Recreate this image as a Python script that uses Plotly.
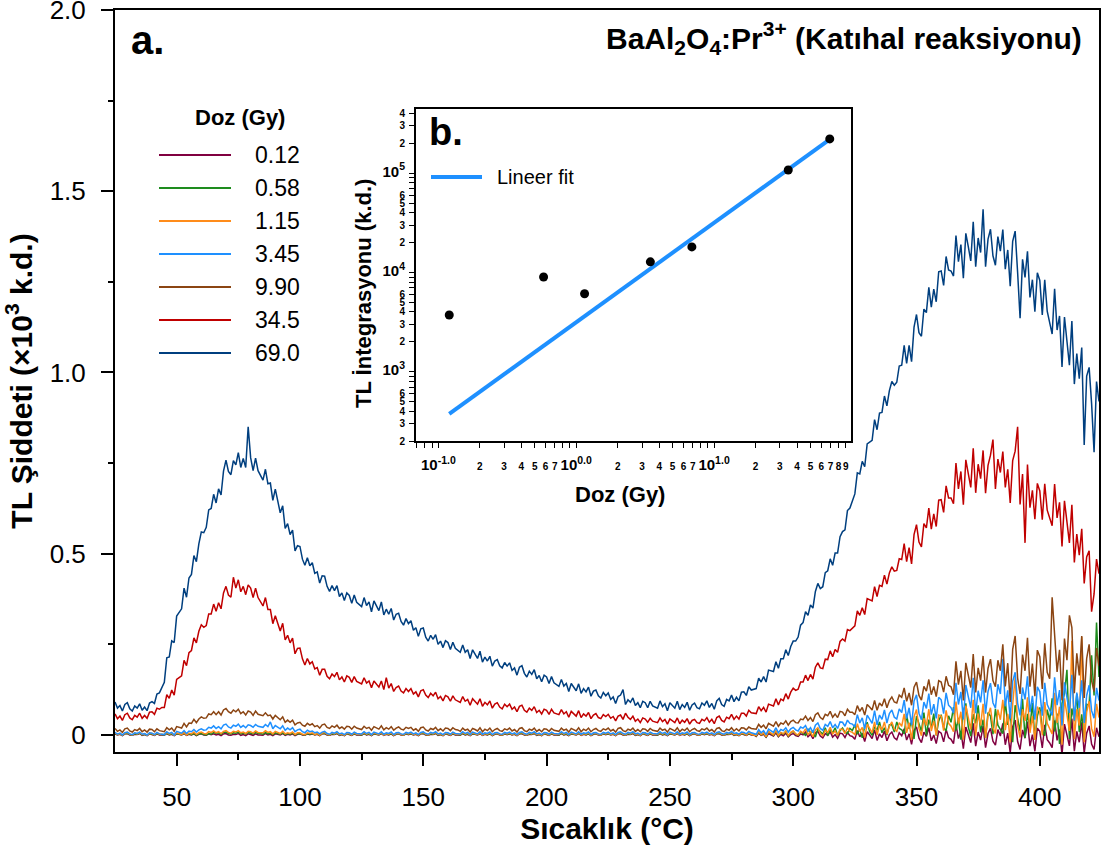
import plotly.graph_objects as go

# ---------------- data ----------------
temperature = list(range(25, 425))  # °C, 1 °C steps, 400 samples

dose_labels = ["0.12", "0.58", "1.15", "3.45", "9.90", "34.5", "69.0"]
dose_colors = ["#800040", "#1e8c1e", "#ff8c1a", "#1e90ff", "#8b4513", "#c00000", "#003f7f"]

# TL intensity (x10^3 k.d.), one row = 20 °C
tl_0_12 = [
    .003, .000, .002, -.002, .003, .004, .000, -.001, .002, .001, .004, -.001, .001, -.002, .003, .002, -.001, .003, .000, .000,
    -.001, .004, .000, .002, -.002, .003, .001, .000, .004, -.001, .002, .000, .003, -.002, .002, .003, .000, -.001, .003, .001,
    .003, .000, .002, -.002, .003, .004, .000, -.001, .002, .001, .004, -.001, .001, -.002, .003, .002, -.001, .003, .000, .000,
    -.001, .004, .000, .002, -.002, .003, .001, .000, .004, -.001, .002, .000, .003, -.002, .002, .003, .000, -.001, .003, .001,
    .003, .000, .002, -.002, .003, .004, .000, -.001, .002, .001, .004, -.001, .001, -.002, .003, .002, -.001, .003, .000, .000,
    -.001, .004, .000, .002, -.002, .003, .001, .000, .004, -.001, .002, .000, .003, -.002, .002, .003, .000, -.001, .003, .001,
    .003, .000, .002, -.002, .003, .004, .000, -.001, .002, .001, .004, -.001, .001, -.002, .003, .002, -.001, .003, .000, .000,
    -.001, .004, .000, .002, -.002, .003, .001, .000, .004, -.001, .002, .000, .003, -.002, .002, .003, .000, -.001, .003, .001,
    .003, .000, .002, -.002, .003, .004, .000, -.001, .002, .001, .004, -.001, .001, -.002, .003, .002, -.001, .003, .000, .000,
    -.001, .004, .000, .002, -.002, .003, .001, .000, .004, -.001, .002, .000, .003, -.002, .002, .003, .000, -.001, .003, .001,
    .003, .000, .002, -.002, .003, .004, .000, -.001, .002, .001, .004, -.001, .001, -.002, .003, .002, -.001, .003, .000, .000,
    -.001, .004, .000, .002, -.002, .003, .001, .000, .004, -.001, .002, .000, .003, -.002, .002, .003, .000, -.001, .003, .001,
    .003, .000, .002, -.002, .003, .004, .000, -.001, .002, .001, .004, -.001, .001, -.002, .003, .002, -.001, .003, .000, .000,
    -.004, .005, -.001, .002, -.006, .004, .001, -.003, .006, -.005, .002, -.002, .005, -.005, .001, .004, -.002, -.004, .003, .000,
    .008, -.005, .002, -.010, .006, .010, -.003, -.008, .004, -.001, .009, -.006, .001, -.009, .005, .003, -.007, .007, -.002, -.004,
    -.012, .012, -.005, .004, -.018, .009, .000, -.010, .014, -.015, .003, -.007, .011, -.016, .001, .008, -.008, -.013, .006, -.002,
    .017, -.014, .003, -.026, .012, .022, -.009, -.021, .008, -.004, .020, -.016, .000, -.024, .010, .005, -.019, .015, -.007, -.012,
    -.024, .029, -.010, .011, -.038, .022, .001, -.021, .032, -.031, .008, -.014, .025, -.035, .004, .018, -.017, -.028, .015, -.003,
    .032, -.027, .005, -.049, .023, .041, -.018, -.040, .014, -.009, .037, -.031, .001, -.045, .019, .010, -.036, .028, -.013, -.022,
    -.035, .040, -.015, .015, -.055, .030, .000, -.030, .045, -.045, .010, -.020, .035, -.050, .005, .025, -.025, -.040, .020, -.005,
]

tl_0_58 = [
    .004, .001, .003, -.001, .004, .005, .001, .000, .003, .002, .005, .000, .002, -.001, .004, .003, .000, .004, .001, .001,
    .000, .005, .001, .003, -.001, .004, .002, .001, .005, .000, .003, .001, .004, -.001, .003, .004, .001, .000, .004, .002,
    .007, .004, .006, .002, .007, .008, .004, .003, .006, .005, .008, .003, .005, .002, .007, .006, .003, .007, .004, .004,
    .002, .007, .003, .005, .001, .006, .004, .002, .006, .001, .004, .002, .005, .000, .003, .004, .001, .000, .004, .002,
    .004, .001, .003, -.001, .004, .005, .001, .000, .003, .002, .005, .000, .002, -.001, .004, .003, .000, .004, .001, .001,
    .000, .005, .001, .003, -.001, .004, .002, .001, .005, .000, .003, .001, .004, -.001, .003, .004, .001, .000, .004, .002,
    .004, .001, .003, -.001, .004, .005, .001, .000, .003, .002, .005, .000, .002, -.001, .004, .003, .000, .004, .001, .001,
    .000, .005, .001, .003, -.001, .004, .002, .001, .005, .000, .003, .001, .004, -.001, .003, .004, .001, .000, .004, .002,
    .004, .001, .003, -.001, .004, .005, .001, .000, .003, .002, .005, .000, .002, -.001, .004, .003, .000, .004, .001, .001,
    .000, .005, .001, .003, -.001, .004, .002, .001, .005, .000, .003, .001, .004, -.001, .003, .004, .001, .000, .004, .002,
    .004, .001, .003, -.001, .004, .005, .001, .000, .003, .002, .005, .000, .002, -.001, .004, .003, .000, .004, .001, .001,
    .000, .005, .001, .003, -.001, .004, .002, .001, .005, .000, .003, .001, .004, -.001, .003, .004, .001, .000, .004, .002,
    .004, .001, .003, -.001, .004, .005, .001, .000, .003, .002, .005, .000, .002, -.001, .004, .003, .000, .004, .001, .001,
    -.003, .009, .000, .005, -.006, .009, .004, -.001, .011, -.003, .006, .002, .010, -.003, .006, .010, .002, -.001, .009, .005,
    -.001, .017, .004, .011, -.006, .016, .009, .002, .020, -.002, .014, .006, .020, -.001, .012, .019, .007, .004, .018, .012,
    .028, .002, .016, -.008, .024, .035, .009, -.001, .023, .013, .036, .006, .020, .000, .028, .028, .008, .036, .018, .014,
    .003, .056, .017, .038, -.011, .052, .031, .010, .062, -.001, .042, .021, .059, -.001, .038, .056, .021, .011, .053, .035,
    .077, .012, .047, -.013, .067, .087, .022, -.003, .057, .032, .082, .007, .042, -.008, .062, .052, .002, .072, .027, .017,
    .004, .094, .028, .064, -.020, .082, .046, .010, .100, -.008, .058, .022, .088, -.014, .052, .076, .016, -.002, .070, .040,
    .101, .010, .059, -.025, .087, .115, .180, -.011, .073, .038, .113, .008, .057, -.013, .085, .081, .220, .109, .310, .160,
]

tl_1_15 = [
    .006, .001, .004, -.001, .005, .007, .002, .000, .005, .003, .007, .001, .003, -.001, .005, .004, .000, .006, .002, .001,
    .001, .007, .002, .005, -.001, .006, .003, .001, .007, .000, .005, .003, .008, .001, .006, .008, .004, .003, .009, .007,
    .011, .006, .009, .004, .010, .012, .007, .005, .010, .008, .012, .006, .008, .004, .010, .009, .005, .011, .007, .006,
    .006, .012, .007, .009, .003, .010, .006, .004, .010, .003, .006, .004, .008, .001, .006, .006, .002, .001, .006, .004,
    .006, .001, .004, -.001, .005, .007, .002, .000, .005, .003, .007, .001, .003, -.001, .005, .004, .000, .006, .002, .001,
    .001, .007, .002, .005, -.001, .006, .003, .001, .007, .000, .004, .002, .006, -.001, .004, .005, .001, .000, .005, .003,
    .006, .001, .004, -.001, .005, .007, .002, .000, .005, .003, .007, .001, .003, -.001, .005, .004, .000, .006, .002, .001,
    .001, .007, .002, .005, -.001, .006, .003, .001, .007, .000, .004, .002, .006, -.001, .004, .005, .001, .000, .005, .003,
    .006, .001, .004, -.001, .005, .007, .002, .000, .005, .003, .007, .001, .003, -.001, .005, .004, .000, .006, .002, .001,
    .001, .007, .002, .005, -.001, .006, .003, .001, .007, .000, .004, .002, .006, -.001, .004, .005, .001, .000, .005, .003,
    .006, .001, .004, -.001, .005, .007, .002, .000, .005, .003, .007, .001, .003, -.001, .005, .004, .000, .006, .002, .001,
    .001, .007, .002, .005, -.001, .006, .003, .001, .007, .000, .004, .002, .006, -.001, .004, .005, .001, .000, .005, .003,
    .006, .001, .004, -.001, .005, .007, .002, .000, .005, .003, .007, .001, .003, -.001, .005, .004, .000, .006, .002, .001,
    -.002, .010, .001, .006, -.005, .010, .005, .000, .012, -.002, .007, .003, .011, -.002, .007, .011, .003, .000, .010, .006,
    .017, .001, .009, -.005, .014, .020, .004, -.002, .013, .007, .021, .003, .011, -.001, .016, .016, .004, .020, .010, .007,
    .001, .031, .009, .021, -.007, .030, .018, .006, .036, .000, .026, .014, .036, .002, .024, .036, .016, .010, .034, .024,
    .058, .006, .034, -.014, .050, .070, .018, -.002, .046, .026, .071, .011, .039, -.001, .055, .052, .012, .068, .032, .024,
    .009, .092, .031, .064, -.013, .081, .048, .015, .097, -.002, .059, .026, .086, -.008, .053, .075, .020, .004, .070, .042,
    .097, .013, .058, -.020, .084, .160, .026, -.007, .071, .039, .104, .006, .052, -.014, .078, .065, -.001, .091, .032, .019,
    .003, .116, .033, .078, -.027, .101, .056, .011, .260, -.012, .071, .026, .270, -.020, .063, .093, .018, -.005, .086, .048,
]

tl_3_45 = [
    .007, .002, .005, .000, .006, .008, .003, .001, .006, .004, .008, .002, .004, .000, .006, .005, .001, .007, .003, .002,
    .001, .009, .004, .007, .000, .010, .007, .005, .012, .004, .011, .009, .015, .008, .014, .017, .013, .014, .021, .019,
    .025, .018, .023, .017, .027, .030, .022, .019, .027, .024, .030, .021, .026, .020, .028, .026, .021, .029, .024, .023,
    .021, .029, .023, .036, .017, .026, .022, .017, .025, .013, .019, .014, .020, .009, .014, .016, .009, .006, .013, .009,
    .011, .006, .008, .003, .008, .010, .004, .002, .007, .005, .009, .003, .005, .001, .007, .006, .002, .008, .004, .003,
    .003, .009, .004, .007, .001, .008, .005, .003, .009, .002, .006, .004, .008, .001, .006, .007, .003, .002, .007, .005,
    .008, .003, .006, .001, .007, .009, .004, .002, .007, .005, .009, .003, .005, .001, .007, .006, .002, .008, .004, .003,
    .003, .009, .004, .007, .001, .008, .005, .003, .009, .002, .006, .004, .008, .001, .006, .007, .003, .002, .007, .005,
    .008, .003, .006, .001, .007, .009, .004, .002, .007, .005, .009, .003, .005, .001, .007, .006, .002, .008, .004, .003,
    .003, .009, .004, .007, .001, .008, .005, .003, .009, .002, .006, .004, .008, .001, .006, .007, .003, .002, .007, .005,
    .008, .003, .006, .001, .007, .009, .004, .002, .007, .005, .009, .003, .005, .001, .007, .006, .002, .008, .004, .003,
    .003, .009, .004, .007, .001, .008, .005, .003, .009, .002, .006, .004, .008, .001, .006, .007, .003, .002, .007, .005,
    .008, .003, .006, .001, .007, .009, .004, .002, .007, .005, .010, .004, .006, .002, .008, .007, .003, .010, .006, .005,
    .002, .015, .006, .012, .001, .016, .012, .007, .020, .006, .015, .012, .020, .008, .017, .021, .014, .011, .022, .019,
    .026, .011, .020, .007, .027, .033, .018, .013, .029, .024, .037, .020, .029, .018, .036, .035, .024, .041, .032, .030,
    .022, .056, .033, .047, .017, .055, .044, .032, .067, .028, .055, .043, .069, .033, .059, .069, .049, .044, .072, .062,
    .096, .045, .075, .028, .094, .111, .060, .042, .091, .073, .114, .056, .085, .046, .104, .097, .059, .116, .082, .075,
    .060, .144, .084, .119, .043, .138, .106, .075, .158, .060, .122, .090, .151, .059, .120, .143, .089, .074, .140, .113,
    .210, .079, .123, .045, .148, .173, .088, .054, .131, .098, .162, .063, .108, .042, .133, .119, .053, .144, .084, .071,
    .054, .159, .082, .124, .026, .145, .103, .061, .166, .040, .117, .075, .151, .033, .109, .137, .067, .046, .130, .095,
]

tl_9_90 = [
    .018, .010, .014, .007, .017, .019, .011, .008, .015, .012, .018, .009, .014, .008, .016, .015, .009, .017, .012, .011,
    .009, .020, .014, .019, .010, .023, .021, .019, .032, .022, .033, .032, .043, .034, .044, .050, .046, .047, .058, .056,
    .064, .056, .064, .055, .069, .073, .064, .060, .069, .064, .071, .059, .064, .055, .066, .063, .054, .066, .057, .055,
    .053, .061, .053, .055, .044, .054, .048, .042, .050, .035, .041, .035, .041, .028, .033, .035, .027, .024, .032, .027,
    .031, .023, .026, .019, .028, .030, .021, .018, .025, .021, .027, .018, .022, .016, .024, .023, .016, .024, .019, .018,
    .015, .024, .018, .021, .013, .023, .020, .016, .025, .014, .020, .016, .023, .013, .019, .022, .016, .014, .021, .018,
    .021, .013, .017, .010, .020, .022, .014, .011, .018, .015, .021, .012, .017, .011, .019, .018, .012, .020, .015, .014,
    .010, .019, .013, .016, .008, .018, .015, .011, .020, .009, .016, .012, .019, .009, .015, .018, .012, .010, .017, .014,
    .019, .011, .015, .008, .018, .020, .012, .009, .016, .013, .019, .010, .015, .009, .017, .016, .010, .018, .013, .012,
    .010, .019, .013, .016, .008, .018, .015, .011, .020, .009, .016, .012, .019, .009, .015, .018, .012, .010, .017, .014,
    .019, .011, .015, .008, .018, .020, .012, .009, .016, .013, .019, .010, .015, .009, .017, .016, .010, .018, .013, .012,
    .010, .019, .013, .016, .008, .018, .015, .011, .020, .009, .016, .012, .019, .009, .015, .018, .012, .010, .017, .014,
    .019, .011, .015, .008, .018, .020, .012, .009, .016, .013, .020, .011, .017, .011, .020, .019, .014, .022, .018, .018,
    .016, .029, .021, .027, .017, .032, .028, .024, .037, .024, .033, .030, .039, .027, .037, .041, .034, .033, .044, .042,
    .052, .040, .048, .037, .056, .061, .048, .043, .057, .053, .065, .049, .058, .048, .065, .063, .053, .071, .063, .063,
    .056, .081, .065, .076, .055, .084, .077, .069, .095, .068, .088, .080, .100, .075, .095, .105, .091, .088, .110, .104,
    .130, .093, .116, .082, .132, .146, .109, .096, .134, .121, .153, .111, .134, .106, .150, .146, .118, .162, .137, .133,
    .111, .203, .139, .177, .095, .199, .165, .131, .223, .117, .185, .150, .218, .117, .184, .209, .150, .133, .206, .177,
    .250, .134, .198, .091, .236, .273, .157, .113, .222, .177, .268, .133, .197, .107, .234, .216, .127, .253, .173, .155,
    .380, .283, .174, .235, .095, .266, .206, .330, .296, .115, .225, .164, .273, .102, .211, .250, .150, .120, .240, .190,
]

tl_34_5 = [
    .058, .045, .052, .040, .056, .060, .047, .042, .054, .049, .060, .046, .054, .046, .063, .064, .057, .074, .071, .076,
    .076, .111, .101, .124, .110, .153, .158, .163, .206, .191, .227, .233, .268, .254, .286, .304, .297, .302, .334, .334,
    .361, .341, .365, .348, .392, .410, .386, .380, .435, .405, .428, .395, .410, .387, .414, .405, .379, .405, .379, .366,
    .356, .379, .346, .346, .307, .329, .308, .287, .308, .262, .275, .254, .267, .224, .239, .240, .210, .193, .211, .196,
    .202, .182, .186, .165, .181, .181, .162, .155, .168, .161, .173, .152, .160, .146, .163, .159, .145, .161, .148, .145,
    .141, .158, .143, .149, .130, .149, .141, .132, .149, .125, .158, .129, .142, .120, .131, .135, .121, .116, .128, .120,
    .128, .113, .119, .105, .122, .125, .110, .103, .115, .108, .118, .100, .106, .094, .109, .105, .093, .108, .097, .094,
    .090, .106, .093, .098, .082, .100, .092, .085, .100, .079, .090, .083, .094, .074, .085, .089, .077, .072, .085, .078,
    .085, .071, .077, .064, .079, .082, .068, .063, .074, .068, .078, .062, .068, .058, .071, .068, .057, .071, .061, .058,
    .056, .070, .058, .064, .049, .065, .059, .052, .067, .048, .058, .052, .062, .045, .055, .059, .048, .045, .056, .051,
    .057, .046, .051, .039, .052, .055, .043, .060, .049, .043, .052, .038, .044, .034, .047, .044, .035, .046, .038, .036,
    .034, .047, .037, .043, .030, .044, .039, .034, .047, .031, .041, .035, .045, .030, .040, .043, .034, .032, .043, .039,
    .048, .035, .043, .031, .048, .052, .040, .036, .049, .045, .057, .043, .052, .044, .060, .060, .052, .068, .061, .061,
    .059, .078, .067, .076, .063, .085, .082, .080, .100, .083, .099, .095, .114, .099, .118, .129, .123, .126, .146, .146,
    .165, .150, .167, .154, .187, .199, .185, .183, .209, .208, .232, .216, .236, .228, .258, .265, .259, .291, .288, .296,
    .301, .342, .330, .351, .332, .376, .373, .370, .409, .382, .413, .410, .441, .416, .447, .464, .452, .454, .486, .484,
    .528, .478, .517, .472, .553, .580, .532, .519, .583, .571, .626, .568, .610, .575, .648, .649, .614, .687, .654, .654,
    .638, .750, .679, .727, .635, .759, .721, .683, .791, .668, .747, .707, .785, .667, .744, .772, .815, .679, .761, .724,
    .782, .683, .733, .640, .757, .783, .850, .636, .720, .530, .746, .627, .675, .595, .694, .673, .594, .693, .620, .600,
    .577, .692, .599, .642, .520, .646, .588, .530, .635, .476, .554, .496, .569, .418, .491, .508, .340, .389, .485, .445,
]

tl_69_0 = [
    .091, .074, .081, .066, .084, .089, .072, .066, .080, .074, .086, .068, .077, .067, .088, .092, .087, .113, .116, .130,
    .145, .213, .215, .260, .255, .328, .338, .348, .405, .380, .433, .443, .495, .478, .527, .560, .558, .573, .621, .625,
    .664, .640, .679, .662, .728, .758, .727, .718, .757, .745, .779, .738, .763, .738, .850, .765, .729, .764, .729, .715,
    .703, .733, .693, .695, .647, .678, .646, .613, .632, .570, .583, .553, .565, .508, .522, .520, .485, .468, .489, .467,
    .475, .446, .450, .419, .439, .438, .410, .396, .412, .398, .412, .382, .392, .371, .392, .385, .363, .386, .366, .360,
    .354, .379, .357, .367, .340, .370, .357, .343, .367, .331, .347, .333, .349, .317, .333, .336, .313, .303, .321, .307,
    .315, .289, .296, .272, .293, .295, .270, .259, .275, .264, .277, .250, .259, .241, .260, .255, .236, .256, .239, .234,
    .228, .248, .228, .235, .211, .235, .223, .211, .231, .201, .215, .204, .217, .190, .204, .208, .191, .185, .200, .190,
    .199, .178, .185, .165, .187, .191, .170, .160, .176, .167, .180, .155, .164, .147, .165, .160, .142, .161, .144, .139,
    .134, .153, .135, .142, .120, .142, .131, .122, .141, .115, .128, .119, .132, .107, .121, .124, .108, .102, .117, .108,
    .116, .098, .105, .087, .106, .110, .125, .084, .097, .090, .102, .081, .089, .075, .093, .089, .075, .093, .080, .078,
    .074, .094, .078, .086, .067, .089, .081, .074, .093, .070, .084, .076, .090, .068, .083, .088, .075, .072, .088, .082,
    .094, .076, .087, .071, .094, .101, .084, .079, .098, .094, .110, .092, .104, .094, .118, .119, .109, .133, .124, .126,
    .128, .157, .146, .161, .146, .179, .177, .175, .202, .184, .210, .210, .235, .219, .244, .259, .259, .270, .303, .310,
    .340, .330, .359, .350, .396, .418, .404, .409, .448, .453, .486, .468, .502, .502, .547, .561, .566, .619, .626, .647,
    .665, .723, .720, .755, .740, .803, .808, .813, .870, .842, .888, .890, .935, .908, .950, .975, .965, .973, 1.018, 1.020,
    1.075, 1.025, 1.075, 1.030, 1.125, 1.160, 1.110, 1.100, 1.175, 1.165, 1.235, 1.180, 1.230, 1.195, 1.278, 1.280, 1.240, 1.320, 1.283, 1.280,
    1.266, 1.378, 1.306, 1.353, 1.260, 1.384, 1.347, 1.308, 1.416, 1.292, 1.371, 1.331, 1.450, 1.292, 1.368, 1.395, 1.322, 1.296, 1.375, 1.335,
    1.394, 1.285, 1.338, 1.238, 1.362, 1.390, 1.276, 1.150, 1.312, 1.262, 1.334, 1.207, 1.256, 1.168, 1.275, 1.254, 1.159, 1.256, 1.169, 1.138,
    1.106, 1.231, 1.117, 1.156, 1.015, 1.153, 1.087, 1.020, 1.142, .968, 1.052, .983, 1.069, .800, .990, 1.014, .914, .780, .975, .920,
]

tl_series = [tl_0_12, tl_0_58, tl_1_15, tl_3_45, tl_9_90, tl_34_5, tl_69_0]
for s in tl_series:
    assert len(s) == len(temperature), len(s)

x_tickvals = [50, 100, 150, 200, 250, 300, 350, 400]
x_minor = [75, 125, 175, 225, 275, 325, 375]
y_tickvals = [0, 0.5, 1.0, 1.5, 2.0]
y_ticktext = ["0", "0.5", "1.0", "1.5", "2.0"]
y_minor = [0.25, 0.75, 1.25, 1.75]

# inset (b.)
inset_dose = [0.12, 0.58, 1.15, 3.45, 6.9, 34.5, 69.0]
inset_tl = [3730, 9000, 6100, 12800, 18100, 108000, 222000]
fit_dose = [0.12, 69.0]
fit_tl = [375, 220000]


def dec(e):
    return '<span style="font-size:15px">10<sup>' + e + '</sup></span>'


inset_x_tickvals = [0.07, 0.08, 0.09, 0.1, 0.2, 0.3, 0.4, 0.5, 0.6, 0.7, 0.8, 0.9,
                    1, 2, 3, 4, 5, 6, 7, 8, 9,
                    10, 20, 30, 40, 50, 60, 70, 80, 90]
inset_x_ticktext = ["", "", "", dec("-1.0"), "2", "3", "4", "5", "6", "7", "", "",
                    dec("0.0"), "2", "3", "4", "5", "6", "7", "", "",
                    dec("1.0"), "2", "3", "4", "5", "6", "7", "8", "9"]
inset_y_tickvals = [200, 300, 400, 500, 600, 700, 800, 900,
                    1e3, 2e3, 3e3, 4e3, 5e3, 6e3, 7e3, 8e3, 9e3,
                    1e4, 2e4, 3e4, 4e4, 5e4, 6e4, 7e4, 8e4, 9e4,
                    1e5, 2e5, 3e5, 4e5]
inset_y_ticktext = ["2", "3", "4", "5", "6", "", "", "",
                    dec("3"), "2", "3", "4", "5", "6", "", "", "",
                    dec("4"), "2", "3", "4", "5", "6", "", "", "",
                    dec("5"), "2", "3", "4"]

# ---------------- layout helpers ----------------
W, H = 1103, 855
ML, MR, MT, MB = 115, 4, 10, 103
PW, PH = W - ML - MR, H - MT - MB
FONT = "Liberation Sans, Arial, Helvetica, sans-serif"


def fx(px):
    return (px - ML) / PW


def fy(py):
    return (H - MB - py) / PH


fig = go.Figure()

for lbl, col, vals in zip(dose_labels, dose_colors, tl_series):
    fig.add_trace(go.Scatter(x=temperature, y=vals, mode="lines", name=lbl,
                             line=dict(color=col, width=1.5), xaxis="x", yaxis="y"))

fig.add_trace(go.Scatter(x=fit_dose, y=fit_tl, mode="lines", name="Lineer fit",
                         line=dict(color="#1e90ff", width=4), xaxis="x2", yaxis="y2"))
fig.add_trace(go.Scatter(x=inset_dose, y=inset_tl, mode="markers", name="data",
                         marker=dict(color="black", size=9), xaxis="x2", yaxis="y2"))

axis_common = dict(showline=True, linecolor="black", linewidth=2, mirror=True,
                   showgrid=False, zeroline=False, ticks="outside", tickcolor="black",
                   automargin=False, ticklabeloverflow="allow")

fig.update_layout(
    width=W, height=H,
    margin=dict(l=ML, r=MR, t=MT, b=MB, pad=0),
    paper_bgcolor="white", plot_bgcolor="white",
    showlegend=False,
    font=dict(family=FONT, color="black"),
    xaxis=dict(**axis_common, range=[25, 424], tickmode="array", tickvals=x_tickvals,
               ticklen=12, tickwidth=1.5, tickfont=dict(size=26), ticklabelstandoff=9,
               tickangle=0,
               minor=dict(tickvals=x_minor, ticks="outside", ticklen=6, tickwidth=1.5,
                          tickcolor="black"),
               title=dict(text="Sıcaklık (°C)", font=dict(size=30, weight="bold"), standoff=4)),
    yaxis=dict(**axis_common, range=[-0.047, 2.0], tickmode="array", tickvals=y_tickvals,
               ticktext=y_ticktext, ticklen=12, tickwidth=1.5, tickfont=dict(size=26),
               ticklabelstandoff=10,
               minor=dict(tickvals=y_minor, ticks="outside", ticklen=5, tickwidth=1.5,
                          tickcolor="black"),
               title=dict(text="TL Şiddeti (×10<sup>3</sup> k.d.)",
                          font=dict(size=30, weight="bold"), standoff=12)),
    xaxis2=dict(**axis_common, type="log", domain=[fx(416), fx(851)], anchor="y2",
                range=[-1.162, 1.993], tickmode="array", tickvals=inset_x_tickvals,
                ticktext=inset_x_ticktext, ticklen=5, tickwidth=1.2, tickangle=0,
                tickfont=dict(size=10, weight="bold"), ticklabelstandoff=10),
    yaxis2=dict(**axis_common, type="log", domain=[fy(441), fy(109)], anchor="x2",
                range=[2.301, 5.648], tickmode="array", tickvals=inset_y_tickvals,
                ticktext=inset_y_ticktext, ticklen=5, tickwidth=1.2,
                tickfont=dict(size=10, weight="bold"), ticklabelstandoff=2),
)

shapes = []
annotations = []

# main legend (manual)
legend_rows_y = [155, 188, 221, 254, 287, 320, 353]
for lbl, col, ry in zip(dose_labels, dose_colors, legend_rows_y):
    shapes.append(dict(type="line", xref="paper", yref="paper",
                       x0=fx(159), x1=fx(231), y0=fy(ry), y1=fy(ry),
                       line=dict(color=col, width=2)))
    annotations.append(dict(text=lbl, xref="paper", yref="paper", x=fx(253), y=fy(ry),
                            xanchor="left", yanchor="middle", showarrow=False,
                            font=dict(size=23, family=FONT, color="black")))
annotations.append(dict(text="Doz (Gy)", xref="paper", yref="paper", x=fx(240), y=fy(118),
                        xanchor="center", yanchor="middle", showarrow=False,
                        font=dict(size=22, weight="bold", family=FONT)))

# panel labels and title
annotations.append(dict(text="a.", xref="paper", yref="paper", x=fx(129), y=fy(40),
                        xanchor="left", yanchor="middle", showarrow=False,
                        font=dict(size=40, weight="bold", family=FONT)))
annotations.append(dict(text="BaAl<sub>2</sub>O<sub>4</sub>:Pr<sup>3+</sup> (Katıhal reaksiyonu)",
                        xref="paper", yref="paper", x=fx(1084), y=fy(38),
                        xanchor="right", yanchor="middle", showarrow=False,
                        font=dict(size=30, weight="bold", family=FONT)))
annotations.append(dict(text="b.", xref="paper", yref="paper", x=fx(427), y=fy(132),
                        xanchor="left", yanchor="middle", showarrow=False,
                        font=dict(size=38, weight="bold", family=FONT)))

# inset legend
shapes.append(dict(type="line", xref="paper", yref="paper", x0=fx(431), x1=fx(482),
                   y0=fy(177), y1=fy(177), line=dict(color="#1e90ff", width=4)))
annotations.append(dict(text="Lineer fit", xref="paper", yref="paper", x=fx(495), y=fy(177),
                        xanchor="left", yanchor="middle", showarrow=False,
                        font=dict(size=20, family=FONT)))

# inset axis titles
annotations.append(dict(text="Doz (Gy)", xref="paper", yref="paper", x=fx(620), y=fy(494),
                        xanchor="center", yanchor="middle", showarrow=False,
                        font=dict(size=22, weight="bold", family=FONT)))
annotations.append(dict(text="TL İntegrasyonu (k.d.)", xref="paper", yref="paper",
                        x=fx(363), y=fy(294), textangle=-90,
                        xanchor="center", yanchor="middle", showarrow=False,
                        font=dict(size=22, weight="bold", family=FONT)))

fig.update_layout(shapes=shapes, annotations=annotations)

fig.write_html("out.html")
